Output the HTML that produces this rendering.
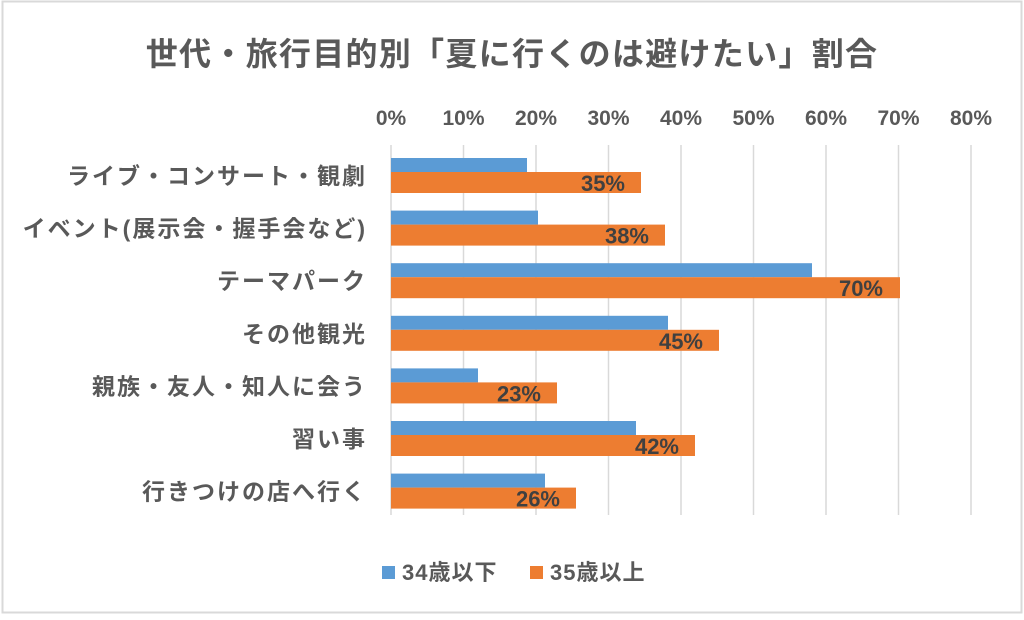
<!DOCTYPE html>
<html><head><meta charset="utf-8"><style>
body{margin:0;background:#fff;}
svg text{font-family:"Liberation Sans","Noto Sans CJK JP",sans-serif;fill:#595959;font-weight:bold;}
svg text.d{fill:#404040;}
</style></head><body>
<svg width="1024" height="615" viewBox="0 0 1024 615" xmlns="http://www.w3.org/2000/svg">
<rect x="2.5" y="1.5" width="1019" height="611" fill="#fff" stroke="#d9d9d9" stroke-width="2"/>
<text x="512" y="65" font-size="32" letter-spacing="1.3" text-anchor="middle">世代・旅行目的別「夏に行くのは避けたい」割合</text>
<g font-size="21" text-anchor="middle">
<text x="391" y="125">0%</text><text x="463.5" y="125">10%</text><text x="536" y="125">20%</text><text x="608.5" y="125">30%</text><text x="681" y="125">40%</text><text x="753.5" y="125">50%</text><text x="826" y="125">60%</text><text x="898.5" y="125">70%</text><text x="971" y="125">80%</text>
</g>
<g stroke="#d9d9d9" stroke-width="1.5">
<line x1="391" y1="145" x2="391" y2="515"/><line x1="463.5" y1="145" x2="463.5" y2="515"/><line x1="536" y1="145" x2="536" y2="515"/><line x1="608.5" y1="145" x2="608.5" y2="515"/><line x1="681" y1="145" x2="681" y2="515"/><line x1="753.5" y1="145" x2="753.5" y2="515"/><line x1="826" y1="145" x2="826" y2="515"/><line x1="898.5" y1="145" x2="898.5" y2="515"/><line x1="971" y1="145" x2="971" y2="515"/>
</g>
<g fill="#5b9bd5">
<rect x="391" y="158" width="136" height="14"/>
<rect x="391" y="210.6" width="147" height="14"/>
<rect x="391" y="263.2" width="421" height="14"/>
<rect x="391" y="315.8" width="277" height="14"/>
<rect x="391" y="368.4" width="87" height="14"/>
<rect x="391" y="421" width="245" height="14"/>
<rect x="391" y="473.6" width="154" height="14"/>
</g>
<g fill="#ed7d31">
<rect x="391" y="172" width="250" height="21"/>
<rect x="391" y="224.6" width="274" height="21"/>
<rect x="391" y="277.2" width="509" height="21"/>
<rect x="391" y="329.8" width="328" height="21"/>
<rect x="391" y="382.4" width="166" height="21"/>
<rect x="391" y="435" width="304" height="21"/>
<rect x="391" y="487.6" width="185" height="21"/>
</g>
<g font-size="22" text-anchor="end">
<text class="d" x="625" y="191">35%</text>
<text class="d" x="649" y="243.6">38%</text>
<text class="d" x="883" y="296.2">70%</text>
<text class="d" x="703" y="348.8">45%</text>
<text class="d" x="541" y="401.4">23%</text>
<text class="d" x="679" y="454">42%</text>
<text class="d" x="560" y="506.6">26%</text>
</g>
<g font-size="23" letter-spacing="2" text-anchor="end">
<text x="367" y="184">ライブ・コンサート・観劇</text>
<text x="367" y="236.6">イベント(展示会・握手会など)</text>
<text x="367" y="289.2">テーマパーク</text>
<text x="367" y="341.8">その他観光</text>
<text x="367" y="394.4">親族・友人・知人に会う</text>
<text x="367" y="447">習い事</text>
<text x="367" y="499.6">行きつけの店へ行く</text>
</g>
<rect x="382" y="566" width="13" height="13" fill="#5b9bd5"/>
<text x="402" y="580" font-size="22" letter-spacing="1">34歳以下</text>
<rect x="530" y="566" width="13" height="13" fill="#ed7d31"/>
<text x="550" y="580" font-size="22" letter-spacing="1">35歳以上</text>
</svg>
</body></html>
